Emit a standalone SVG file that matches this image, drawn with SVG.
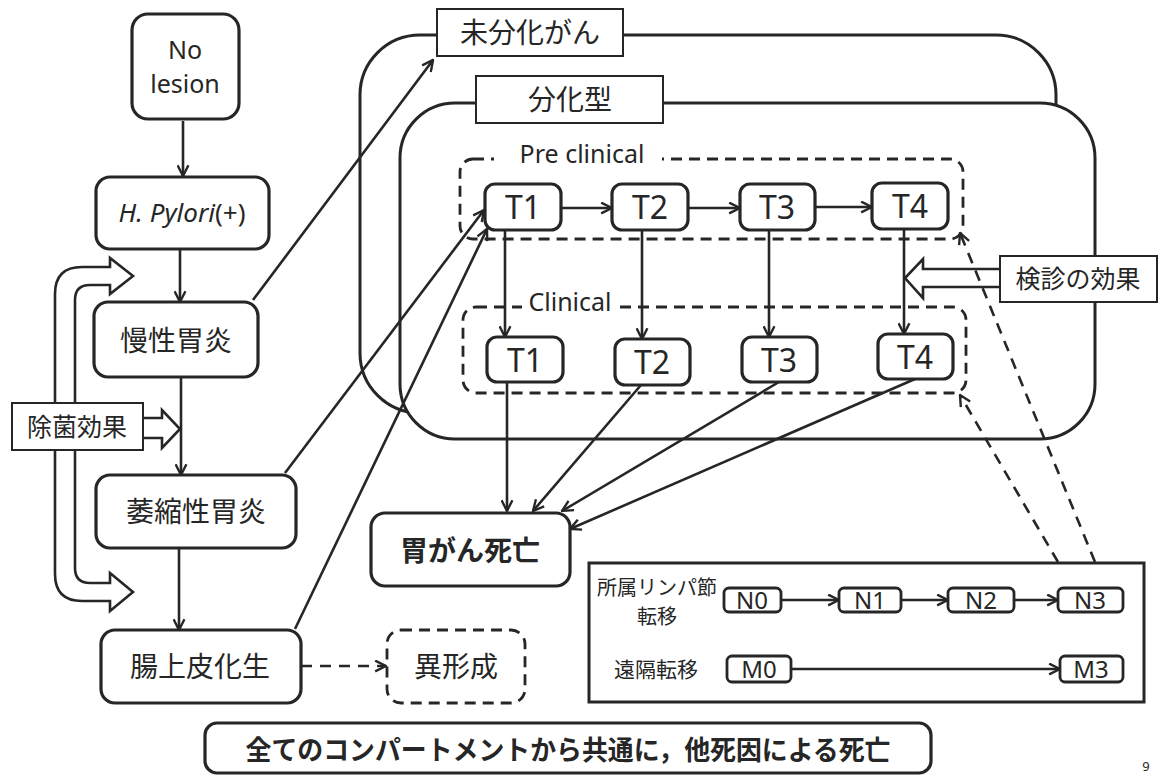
<svg xmlns="http://www.w3.org/2000/svg" width="1159" height="776" viewBox="0 0 1159 776">
  <defs>
    <style>
      .bg { fill: #ffffff; }
      .node { fill: #ffffff; stroke: #262626; stroke-width: 3.2; }
      .small { fill: #ffffff; stroke: #262626; stroke-width: 2.8; }
      .label { fill: #ffffff; stroke: #262626; stroke-width: 2; }
      .cont { fill: #ffffff; stroke: #262626; stroke-width: 3; }
      .dash { fill: none; stroke: #262626; stroke-width: 2.8; stroke-dasharray: 11 7; }
      .hollow { fill: #ffffff; stroke: #262626; stroke-width: 2.6; stroke-linejoin: miter; }
      .edge { fill: none; stroke: #262626; stroke-width: 2.6; marker-end: url(#arr); }
      .edge-dash { fill: none; stroke: #262626; stroke-width: 2.6; stroke-dasharray: 11 8; marker-end: url(#arr); }
      .jp { font-family: "Noto Sans CJK JP", "Noto Sans", sans-serif; fill: #262626; text-anchor: middle; }
      .en { font-family: "Noto Sans", "Liberation Sans", sans-serif; fill: #262626; text-anchor: middle; }
    </style>
    <marker id="arr" viewBox="0 0 12 12" refX="11" refY="6" markerWidth="13" markerHeight="13" markerUnits="userSpaceOnUse" orient="auto">
      <path d="M1,1 L11,6 L1,11" fill="none" stroke="#262626" stroke-width="2.2"/>
    </marker>
  </defs>

  <rect class="bg" x="0" y="0" width="1159" height="776"/>

  <!-- outer containers -->
  <g id="undiff-container">
    <rect class="cont" x="360" y="35" width="696" height="378" rx="60"/>
  </g>
  <g id="diff-container">
    <rect class="cont" x="400" y="103" width="695" height="336" rx="55"/>
  </g>
  <g id="undiff-label">
    <rect class="label" x="437" y="9" width="186" height="47"/>
    <text class="jp" x="530" y="43" font-size="28">未分化がん</text>
  </g>
  <g id="diff-label">
    <rect class="label" x="476" y="76" width="187" height="47"/>
    <text class="jp" x="570" y="110" font-size="28">分化型</text>
  </g>

  <!-- stage groups (dashed) -->
  <g id="preclinical-group">
    <rect class="dash" x="460" y="159" width="503" height="80" rx="13"/>
    <rect class="bg" x="494" y="150" width="168" height="16"/>
    <text class="en" x="582" y="163" font-size="25">Pre clinical</text>
  </g>
  <g id="clinical-group">
    <rect class="dash" x="463" y="307" width="503" height="86" rx="13"/>
    <rect class="bg" x="522" y="298" width="96" height="16"/>
    <text class="en" x="570" y="311" font-size="25">Clinical</text>
  </g>

  <!-- metastasis panel frame -->
  <g id="metastasis-panel">
    <rect fill="#ffffff" stroke="#262626" stroke-width="3" x="589" y="563" width="555" height="139"/>
    <text class="jp" x="657" y="595" font-size="20">所属リンパ節</text>
    <text class="jp" x="657" y="624" font-size="20">転移</text>
    <text class="jp" x="656" y="677" font-size="21">遠隔転移</text>
  </g>

  <!-- screening-effect hollow arrow -->
  <g id="screening-arrow">
    <path class="hollow" d="M1002,269 L923,269 L923,259 L905,278 L923,298 L923,287 L1002,287 Z"/>
  </g>
  <g id="screening">
    <rect class="label" x="1000" y="256" width="157" height="46" stroke-width="2.4"/>
    <text class="jp" x="1078" y="288" font-size="25">検診の効果</text>
  </g>

  <!-- eradication-effect U-shaped hollow arrow and side arrow -->
  <g id="eradication-arrows">
    <path class="hollow" d="M110,267 L82,267 Q55,267 55,294 L55,574 Q55,601 82,601 L110,601 L110,611 L133,592 L110,573 L110,583 L90,583 Q75,583 75,568 L75,300 Q75,285 90,285 L110,285 L110,294 L133,276 L110,258 Z"/>
    <path class="hollow" d="M141,418 L162,418 L162,410 L180,429 L162,448 L162,438 L141,438 Z"/>
  </g>
  <g id="eradication">
    <rect class="label" x="12" y="403" width="131" height="47" stroke-width="2.6"/>
    <text class="jp" x="77" y="436" font-size="25">除菌効果</text>
  </g>

  <!-- connectors -->
  <g id="connectors">
    <line class="edge" x1="183" y1="121" x2="183" y2="176"/>
    <line class="edge" x1="180" y1="250" x2="180" y2="302"/>
    <line class="edge" x1="181" y1="378" x2="181" y2="475"/>
    <line class="edge" x1="179" y1="548" x2="179" y2="630"/>
    <line class="edge-dash" x1="301" y1="666" x2="386" y2="666"/>
    <line class="edge" x1="253" y1="300" x2="433" y2="60"/>
    <line class="edge" x1="285" y1="473" x2="484" y2="210"/>
    <line class="edge" x1="295" y1="629" x2="487" y2="229"/>

    <line class="edge" x1="561" y1="208" x2="612" y2="208"/>
    <line class="edge" x1="688" y1="208" x2="740" y2="208"/>
    <line class="edge" x1="815" y1="207" x2="872" y2="207"/>

    <line class="edge" x1="505" y1="230" x2="505" y2="337"/>
    <line class="edge" x1="642" y1="230" x2="642" y2="339"/>
    <line class="edge" x1="769" y1="230" x2="769" y2="337"/>
    <line class="edge" x1="904" y1="229" x2="904" y2="334"/>

    <line class="edge" x1="507" y1="382" x2="507" y2="511"/>
    <line class="edge" x1="641" y1="385" x2="533" y2="511"/>
    <line class="edge" x1="779" y1="382" x2="562" y2="511"/>
    <line class="edge" x1="915" y1="379" x2="570" y2="529"/>

    <line class="edge" x1="781" y1="600" x2="839" y2="600"/>
    <line class="edge" x1="901" y1="600" x2="948" y2="600"/>
    <line class="edge" x1="1014" y1="600" x2="1058" y2="600"/>
    <line class="edge" x1="791" y1="669" x2="1060" y2="669"/>

    <line class="edge-dash" x1="1095" y1="562" x2="960" y2="233"/>
    <line class="edge-dash" x1="1058" y1="562" x2="960" y2="395"/>
  </g>

  <!-- left progression column -->
  <g id="no-lesion">
    <rect class="node" x="132" y="14" width="107" height="105" rx="16"/>
    <text class="en" x="185" y="59" font-size="25">No</text>
    <text class="en" x="185" y="93" font-size="25">lesion</text>
  </g>
  <g id="h-pylori">
    <rect class="node" x="96" y="177" width="173" height="72" rx="14"/>
    <text class="en" x="182" y="222" font-size="26"><tspan font-style="italic">H. Pylori</tspan>(+)</text>
  </g>
  <g id="chronic-gastritis">
    <rect class="node" x="94" y="302" width="164" height="75" rx="14"/>
    <text class="jp" x="176" y="351" font-size="28">慢性胃炎</text>
  </g>
  <g id="atrophic-gastritis">
    <rect class="node" x="96" y="475" width="200" height="73" rx="14"/>
    <text class="jp" x="196" y="522" font-size="28">萎縮性胃炎</text>
  </g>
  <g id="intestinal-metaplasia">
    <rect class="node" x="101" y="630" width="200" height="73" rx="14"/>
    <text class="jp" x="200" y="677" font-size="28">腸上皮化生</text>
  </g>
  <g id="dysplasia">
    <rect class="dash" x="387" y="630" width="138" height="73" rx="14"/>
    <text class="jp" x="456" y="677" font-size="28">異形成</text>
  </g>

  <!-- preclinical stages -->
  <g id="pre-t1">
    <rect class="node" x="485" y="184" width="76" height="46" rx="10"/>
    <text class="en" x="523" y="219" font-size="32">T1</text>
  </g>
  <g id="pre-t2">
    <rect class="node" x="612" y="184" width="76" height="46" rx="10"/>
    <text class="en" x="650" y="219" font-size="32">T2</text>
  </g>
  <g id="pre-t3">
    <rect class="node" x="740" y="184" width="75" height="46" rx="10"/>
    <text class="en" x="777" y="219" font-size="32">T3</text>
  </g>
  <g id="pre-t4">
    <rect class="node" x="872" y="183" width="76" height="46" rx="10"/>
    <text class="en" x="910" y="218" font-size="32">T4</text>
  </g>

  <!-- clinical stages -->
  <g id="clin-t1">
    <rect class="node" x="487" y="337" width="76" height="45" rx="10"/>
    <text class="en" x="525" y="372" font-size="32">T1</text>
  </g>
  <g id="clin-t2">
    <rect class="node" x="615" y="339" width="75" height="46" rx="10"/>
    <text class="en" x="652" y="374" font-size="32">T2</text>
  </g>
  <g id="clin-t3">
    <rect class="node" x="742" y="337" width="75" height="45" rx="10"/>
    <text class="en" x="779" y="372" font-size="32">T3</text>
  </g>
  <g id="clin-t4">
    <rect class="node" x="878" y="334" width="75" height="45" rx="10"/>
    <text class="en" x="915" y="369" font-size="32">T4</text>
  </g>

  <!-- outcome -->
  <g id="cancer-death">
    <rect class="node" x="371" y="513" width="199" height="73" rx="14"/>
    <text class="jp" x="470" y="561" font-size="28" font-weight="bold">胃がん死亡</text>
  </g>

  <!-- nodal / distant metastasis stages -->
  <g id="n0">
    <rect class="small" x="724" y="588" width="57" height="24" rx="5"/>
    <text class="en" x="752" y="609" font-size="24">N0</text>
  </g>
  <g id="n1">
    <rect class="small" x="839" y="588" width="62" height="24" rx="5"/>
    <text class="en" x="870" y="609" font-size="24">N1</text>
  </g>
  <g id="n2">
    <rect class="small" x="948" y="588" width="66" height="24" rx="5"/>
    <text class="en" x="981" y="609" font-size="24">N2</text>
  </g>
  <g id="n3">
    <rect class="small" x="1058" y="588" width="65" height="24" rx="5"/>
    <text class="en" x="1090" y="609" font-size="24">N3</text>
  </g>
  <g id="m0">
    <rect class="small" x="727" y="656" width="64" height="26" rx="5"/>
    <text class="en" x="759" y="678" font-size="24">M0</text>
  </g>
  <g id="m3">
    <rect class="small" x="1060" y="656" width="63" height="26" rx="5"/>
    <text class="en" x="1091" y="678" font-size="24">M3</text>
  </g>

  <!-- other-cause death note -->
  <g id="other-death">
    <rect class="node" x="205" y="723" width="726" height="50" rx="12"/>
    <text class="jp" x="568" y="760" font-size="27" font-weight="bold" textLength="645" lengthAdjust="spacingAndGlyphs">全てのコンパートメントから共通に，他死因による死亡</text>
  </g>

  <text class="en" x="1146" y="771" font-size="13">9</text>
</svg>
